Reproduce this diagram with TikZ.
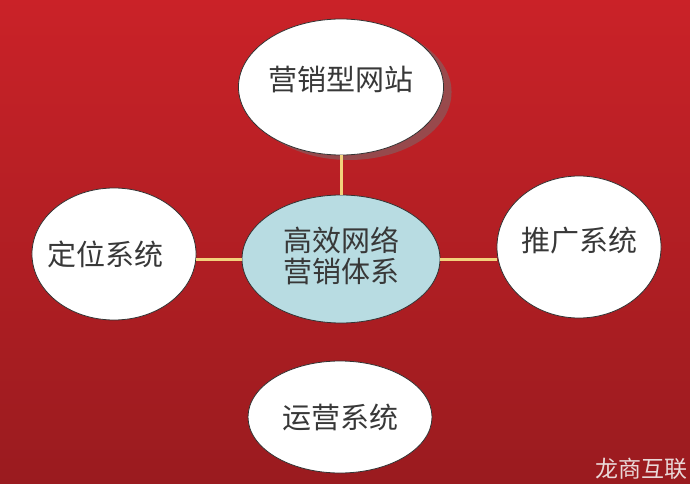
\documentclass[tikz,border=0pt]{standalone}
\usepackage{fontspec}
\newfontfamily\cjk{Noto Sans CJK SC}
\usetikzlibrary{shapes.geometric,shadows}
\definecolor{bgtop}{HTML}{CA2228}
\definecolor{bgbottom}{HTML}{9A1B1F}
\definecolor{hubblue}{HTML}{B8DCE2}
\definecolor{linkgold}{HTML}{F2D27C}
\definecolor{inkgray}{HTML}{383838}
\definecolor{stamppink}{HTML}{EAD8D8}
\newcommand{\liftby}[2]{\raisebox{#1}[\height][\depth]{#2}}
\newcommand{\nudgeleft}[2]{\hbox{\kern-#1#2\kern#1}}

\begin{document}
\begin{tikzpicture}[
    x=1pt, y=-1pt,
    bubble/.style={ellipse, draw=black!80, line width=0.8pt, fill=white, inner sep=0pt, text=inkgray, font=\cjk\fontsize{29}{31}\selectfont},
    hub/.style={bubble, fill=hubblue, align=center},
    link/.style={draw=linkgold, line width=3pt},
    stamp/.style={text=stamppink, font=\cjk\fontsize{23}{23}\selectfont, inner sep=0pt}
    ]

    \fill[top color=bgtop, bottom color=bgbottom] (0,0) rectangle (690,484);
    \useasboundingbox (0,0) rectangle (690,484);

    \node[bubble, minimum width=176pt, minimum height=136pt,
          drop shadow={shadow xshift=8pt, shadow yshift=-5pt, fill=black!55, opacity=0.5}] (web) at (341,87) {\liftby{7pt}{营销型网站}};
    \node[hub, minimum width=198pt, minimum height=128pt] (hub) at (341,259) {\liftby{3pt}{高效网络}\\\liftby{3pt}{营销体系}};
    \node[bubble, minimum width=155pt, minimum height=132pt] (locate) at (114,254) {\nudgeleft{9pt}{定位系统}};
    \node[bubble, minimum width=164pt, minimum height=142pt] (promo) at (579,247) {\liftby{6pt}{推广系统}};
    \node[bubble, minimum width=184pt, minimum height=112pt] (ops) at (340,417) {运营系统};

    \draw[link] (web.south) -- (hub.north);
    \draw[link] (locate.east |- hub.west) -- (hub.west);
    \draw[link] (hub.east) -- (hub.east -| promo.west);

    \node[stamp, anchor=south east] (brand) at (688,480) {龙商互联};

\end{tikzpicture}
\end{document}
